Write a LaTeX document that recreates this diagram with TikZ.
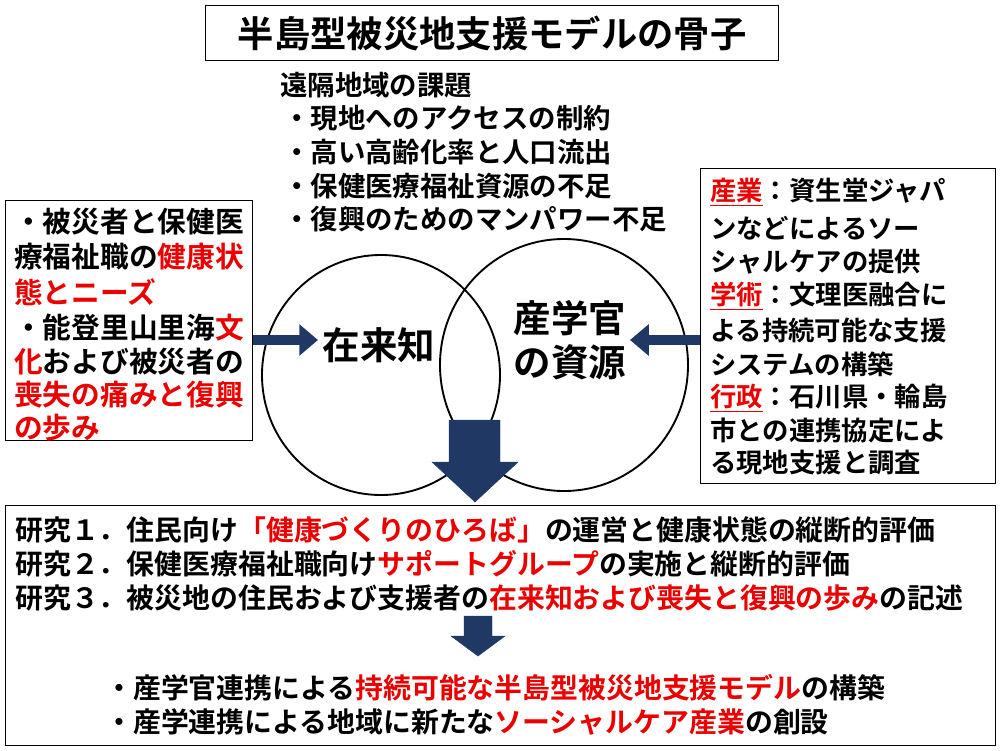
\documentclass[tikz,border=0pt]{standalone}
\usepackage{fontspec}
\setmainfont{Noto Sans CJK JP}[BoldFont={Noto Sans CJK JP Bold}]
\usetikzlibrary{arrows.meta}
\definecolor{navy}{RGB}{31,56,100}
\definecolor{rd}{RGB}{235,0,0}
\newcommand{\R}[1]{\textcolor{rd}{#1}}
\newcommand{\RU}[1]{\textcolor{rd}{\underline{#1}}}
\begin{document}
\begin{tikzpicture}[x=0.03cm,y=-0.03cm,
 box/.style={draw,line width=1.2pt},
 tl/.style={anchor=west,inner sep=0,font=\bfseries\fontsize{23.4}{23}\selectfont},
 bl/.style={anchor=west,inner sep=0,font=\bfseries\fontsize{23.8}{23}\selectfont},
 ll/.style={anchor=west,inner sep=0,font=\bfseries\fontsize{24.5}{24}\selectfont},
 rl/.style={anchor=west,inner sep=0,font=\bfseries\fontsize{22.5}{23}\selectfont},
 big/.style={inner sep=0,font=\bfseries\fontsize{32}{32}\selectfont},
 thk/.style={line width=1.6pt},
 harrow/.style={navy,line width=8pt,-{Triangle[length=16pt,width=26pt]}},
 blk/.style={fill=navy,draw=navy}]
\useasboundingbox (0,0) rectangle (1000,750);
\node[box,minimum width=573*0.03cm,minimum height=55*0.03cm,anchor=north west,font=\bfseries\fontsize{31}{31}\selectfont] (title) at (205,5) {半島型被災地支援モデルの骨子};
% top text
\node[tl] (t0) at (280,85) {遠隔地域の課題};
\node[tl] (t1) at (283,118) {・現地へのアクセスの制約};
\node[tl] (t2) at (283,152) {・高い高齢化率と人口流出};
\node[tl] (t3) at (283,186) {・保健医療福祉資源の不足};
\node[tl] (t4) at (283,219) {・復興のためのマンパワー不足};
% circles
\draw[thk] (381,375) ellipse [x radius=119, y radius=120];
\draw[thk] (564,365) ellipse [x radius=124, y radius=126];
\node[big] (zai) at (379,345) {在来知};
\node[big] (s1) at (570,318) {産学官};
\node[big] (s2) at (570,362) {の資源};
% left box
\node[box,minimum width=247*0.03cm,minimum height=240*0.03cm,anchor=north west] (lb) at (5,200) {};
\node[ll] at (14,222) {・被災者と保健医};
\node[ll] at (14,257) {療福祉職の\R{健康状}};
\node[ll] at (14,292) {\R{態とニーズ}};
\node[ll] at (14,328) {・能登里山里海\R{文}};
\node[ll] at (14,362) {\R{化}および被災者の};
\node[ll] at (14,395) {\R{喪失の痛みと復興}};
\node[ll] at (14,428) {\R{の歩み}};
% right box
\node[box,minimum width=295*0.03cm,minimum height=315*0.03cm,anchor=north west] (rb) at (700,168) {};
\node[rl] at (710,192) {\RU{産業}：資生堂ジャパ};
\node[rl] at (710,228) {ンなどによるソー};
\node[rl] at (710,262) {シャルケアの提供};
\node[rl] at (710,296) {\RU{学術}：文理医融合に};
\node[rl] at (710,330) {よる持続可能な支援};
\node[rl] at (710,364) {システムの構築};
\node[rl] at (710,398) {\RU{行政}：石川県・輪島};
\node[rl] at (710,431) {市との連携協定によ};
\node[rl] at (710,463) {る現地支援と調査};
% arrows
\coordinate (la) at (318,340);
\coordinate (ra) at (630,340);
\draw[harrow] (lb.east |- la) -- (la);
\draw[harrow] (rb.west |- ra) -- (ra);
\fill[blk] (449,420) -- (500,420) -- (500,462) -- (518,462) -- (475,502) -- (432,462) -- (449,462) -- cycle;
% bottom box
\node[box,minimum width=990*0.03cm,minimum height=240*0.03cm,anchor=north west] (bb) at (5,505) {};
\node[bl] at (15,530) {研究１．住民向け\R{「健康づくりのひろば」}の運営と健康状態の縦断的評価};
\node[bl] at (15,564) {研究２．保健医療福祉職向け\R{サポートグループ}の実施と縦断的評価};
\node[bl] at (15,598) {研究３．被災地の住民および支援者の\R{在来知および喪失と復興の歩み}の記述};
\fill[blk] (464,616) -- (492,616) -- (492,636) -- (505,636) -- (478,656) -- (451,636) -- (464,636) -- cycle;
\node[bl] at (105,688) {・産学官連携による\R{持続可能な半島型被災地支援モデル}の構築};
\node[bl] at (105,722) {・産学連携による地域に新たな\R{ソーシャルケア産業}の創設};
\end{tikzpicture}
\end{document}
